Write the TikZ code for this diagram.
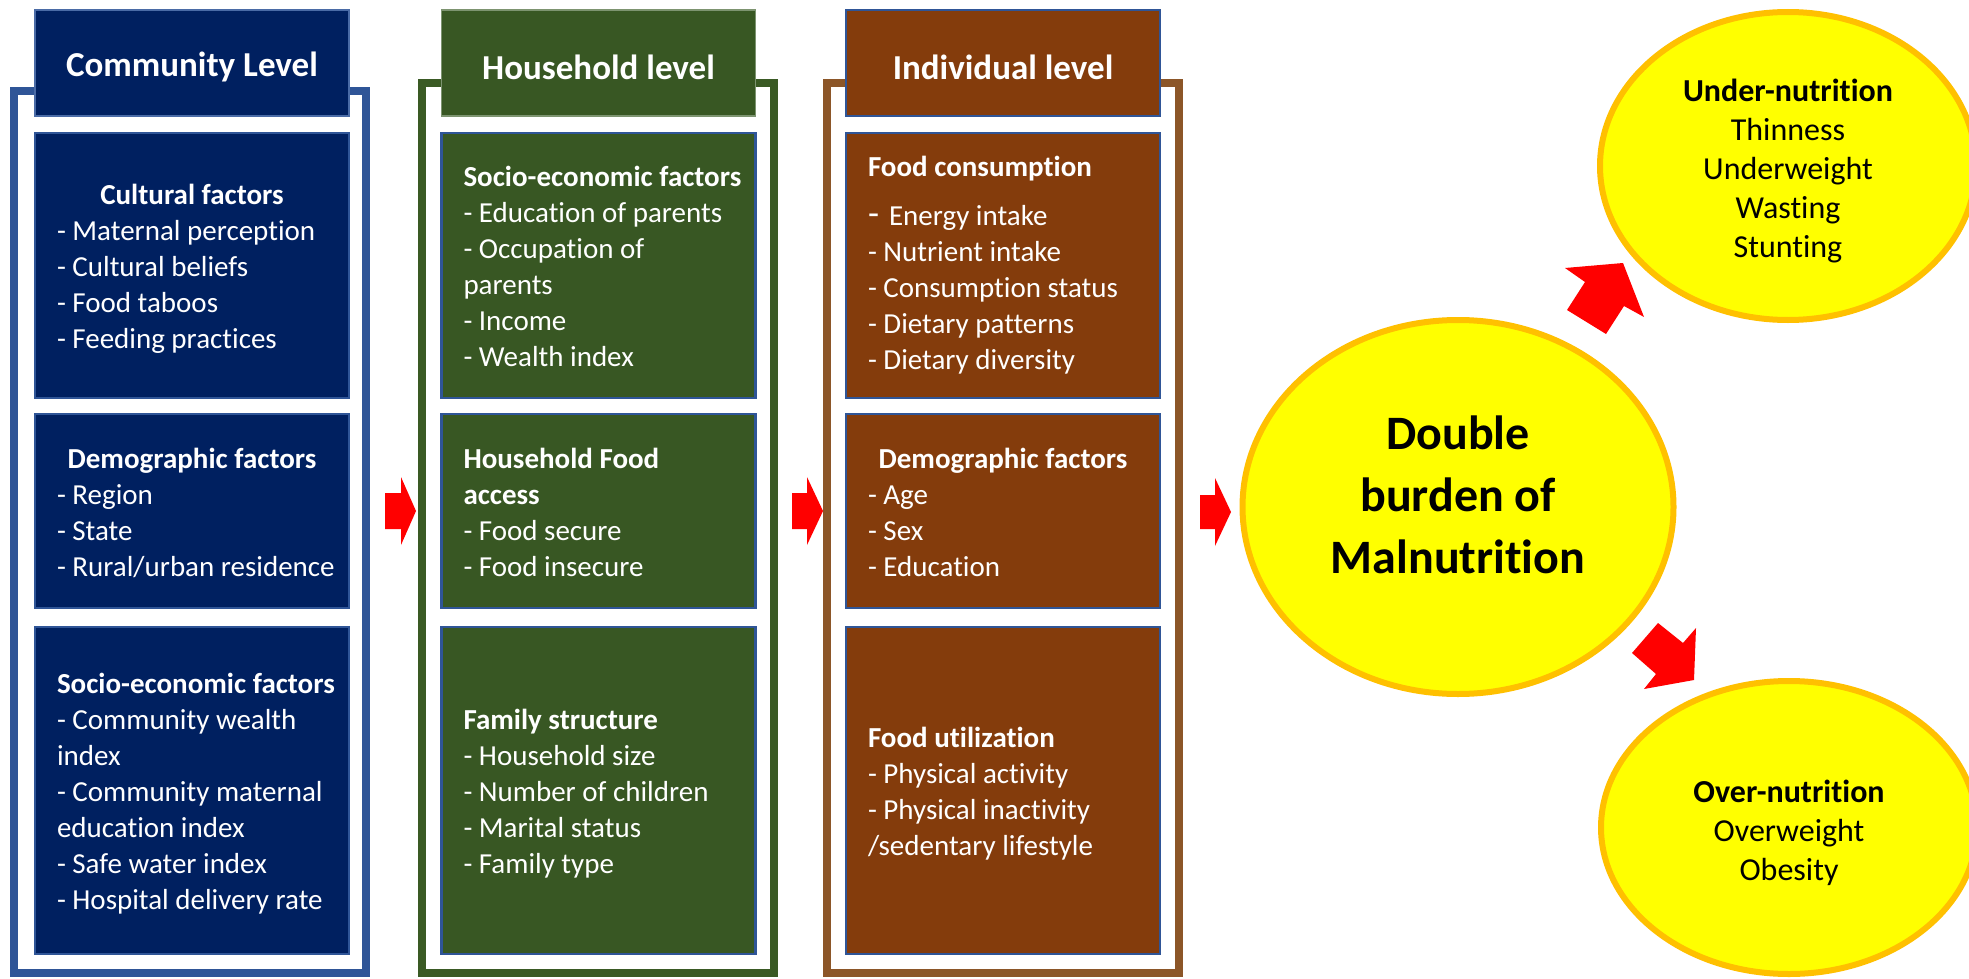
\documentclass[tikz,border=0pt]{standalone}
\usepackage{fontspec}
\setmainfont{Carlito}[Ligatures=NoCommon]
\usetikzlibrary{shapes.geometric}
\hyphenpenalty=10000
\exhyphenpenalty=10000
\definecolor{cnavy}{HTML}{002060}
\definecolor{cframe}{HTML}{2F5597}
\definecolor{cgreen}{HTML}{385723}
\definecolor{gframe}{HTML}{3A5A24}
\definecolor{cbrown}{HTML}{843C0C}
\definecolor{bframe}{HTML}{8C5628}
\definecolor{boxedge}{HTML}{2F5597}
\definecolor{comhead}{HTML}{4A6BA6}
\definecolor{hhhead}{HTML}{7D9470}
\definecolor{indhead}{HTML}{2F5597}
\definecolor{ellfill}{HTML}{FFFF00}
\definecolor{elledge}{HTML}{FFC000}
\definecolor{arrowred}{HTML}{FF0000}
\def\u{0.5pt}
\newcommand{\blk}[2][-2pt]{\raisebox{#1}[\height][\depth]{\makebox[135pt][l]{\begin{tabular}{@{}l@{}}#2\end{tabular}}}}
\newcommand{\ttl}[1]{\makebox[135pt]{\bfseries #1}}
\newcommand{\hdr}[1]{\raisebox{-2pt}[\height][\depth]{#1}}
\tikzset{
  panel/.style={rectangle, draw=boxedge, line width=1.1pt, text=white,
    inner xsep=11pt, inner ysep=0pt, minimum width=157pt,
    font=\fontsize{14.5pt}{18pt}\selectfont},
  panelhead/.style={rectangle, line width=0.9pt, text=white, minimum width=157pt,
    minimum height=53pt, inner sep=0pt, font=\bfseries\fontsize{17.5pt}{20pt}\selectfont},
  levelframe/.style={line width=4pt},
  oval/.style={ellipse, fill=ellfill, draw=elledge, line width=3pt, align=center, inner sep=0pt},
  ovaltext/.style={align=center, inner sep=0pt, font=\fontsize{16pt}{19.5pt}\selectfont},
  blockarrow/.style={fill=arrowred},
}
\begin{document}
\begin{tikzpicture}[x=0.5pt,y=-0.5pt]
\fill[white] (0,0) rectangle (1969,979);
\useasboundingbox (0,0) rectangle (1969,979);

% frames
\draw[levelframe, draw=cframe] (14,91.5) rectangle (366,973);
\draw[levelframe, draw=gframe] (422,83) rectangle (774,973);
\draw[levelframe, draw=bframe] (827,83) rectangle (1179,973);

% headers
\node[panelhead, fill=cnavy, draw=comhead] (comH) at (192,63) {\hdr{Community Level}};
\node[panelhead, fill=cgreen, draw=hhhead] (hhH) at (598.5,63) {\hdr{Household level}};
\node[panelhead, fill=cbrown, draw=indhead] (indH) at (1003,63) {\hdr{Individual level}};

% community boxes
\node[panel, fill=cnavy, minimum height=265*\u] (com1) at (192,265.5)
  {\blk{\ttl{Cultural factors}\\- Maternal perception\\- Cultural beliefs\\- Food taboos\\- Feeding practices}};
\node[panel, fill=cnavy, minimum height=194*\u] (com2) at (192,511)
  {\blk{\ttl{Demographic factors}\\- Region\\- State\\- Rural/urban residence}};
\node[panel, fill=cnavy, minimum height=327*\u] (com3) at (192,790.5)
  {\blk{\textbf{Socio-economic factors}\\- Community wealth\\index\\- Community maternal\\education index\\- Safe water index\\- Hospital delivery rate}};

% household boxes
\node[panel, fill=cgreen, minimum height=265*\u] (hh1) at (598.5,265.5)
  {\blk{\textbf{Socio-economic factors}\\- Education of parents\\- Occupation of\\parents\\- Income\\- Wealth index}};
\node[panel, fill=cgreen, minimum height=194*\u] (hh2) at (598.5,511)
  {\blk{\textbf{Household Food}\\\textbf{access}\\- Food secure\\- Food insecure}};
\node[panel, fill=cgreen, minimum height=327*\u] (hh3) at (598.5,790.5)
  {\blk{\textbf{Family structure}\\- Household size\\- Number of children\\- Marital status\\- Family type}};

% individual boxes
\node[panel, fill=cbrown, minimum height=265*\u] (ind1) at (1003,265.5)
  {\blk[0pt]{\textbf{Food consumption}\\[6.5pt]{\fontsize{18pt}{18pt}\selectfont -}\hspace{5pt}Energy intake\\- Nutrient intake\\- Consumption status\\- Dietary patterns\\- Dietary diversity}};
\node[panel, fill=cbrown, minimum height=194*\u] (ind2) at (1003,511)
  {\blk{\ttl{Demographic factors}\\- Age\\- Sex\\- Education}};
\node[panel, fill=cbrown, minimum height=327*\u] (ind3) at (1003,790.5)
  {\blk{\textbf{Food utilization}\\- Physical activity\\- Physical inactivity\\/sedentary lifestyle}};

% ellipses
\node[oval, minimum width=431*\u, minimum height=374*\u] (dbm) at (1458,507) {};
\node[ovaltext, font=\bfseries\fontsize{24pt}{31pt}\selectfont] (dbmtext) at (1458,495)
  {Double\\burden of\\Malnutrition};
\node[oval, minimum width=376*\u, minimum height=308*\u] (under) at (1788,166) {};
\node[ovaltext] (undertext) at (1788,171)
  {\textbf{Under-nutrition}\\Thinness\\Underweight\\Wasting\\Stunting};
\node[oval, minimum width=376*\u, minimum height=293*\u] (over) at (1789,827.5) {};
\node[ovaltext] (overtext) at (1789,833)
  {\textbf{Over-nutrition}\\Overweight\\Obesity};

% block arrows
\fill[blockarrow] (385,493) -- (401,493) -- (401,477) -- (416,511) -- (401,545) -- (401,529) -- (385,529) -- cycle;
\fill[blockarrow] (792,493) -- (807,493) -- (807,477) -- (823,511) -- (807,545) -- (807,529) -- (792,529) -- cycle;
\fill[blockarrow] (1200,495) -- (1215,495) -- (1215,478) -- (1231,512) -- (1215,546) -- (1215,529) -- (1200,529) -- cycle;
\fill[blockarrow] (1567,310) -- (1585,282) -- (1565,268) -- (1623,263) -- (1644,317) -- (1624,306) -- (1606,334) -- cycle;
\fill[blockarrow] (1658,623) -- (1683,643) -- (1696,628) -- (1694,680) -- (1644,689) -- (1656,674) -- (1632,653) -- cycle;
\end{tikzpicture}
\end{document}
